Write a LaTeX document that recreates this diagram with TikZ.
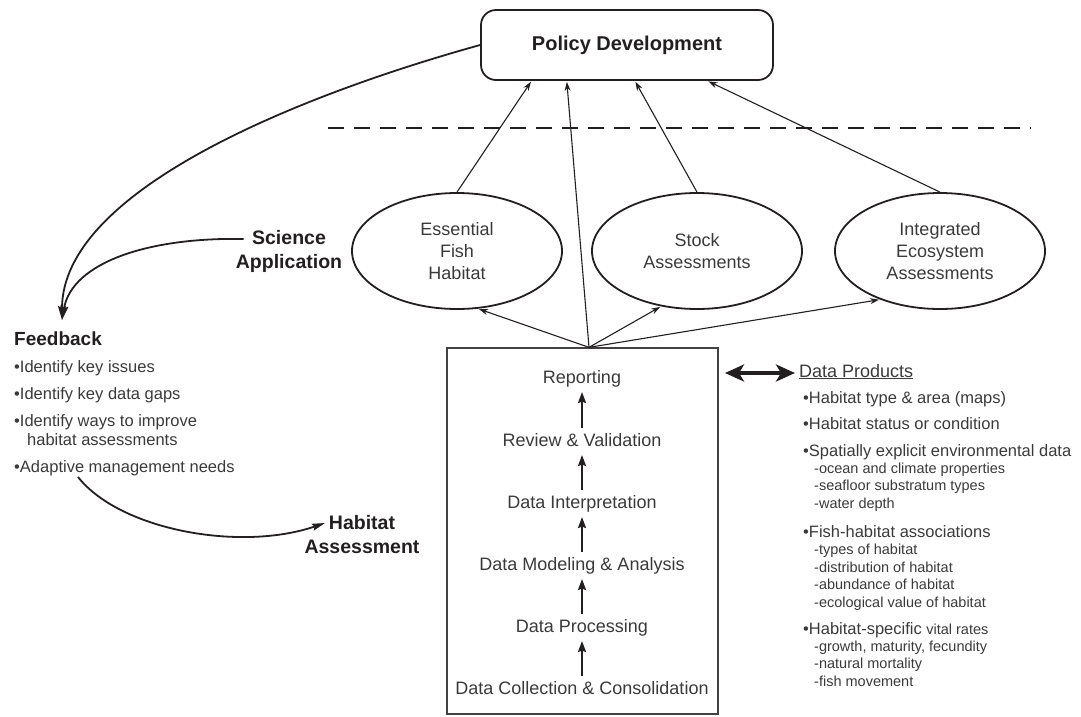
\documentclass[tikz,border=0pt]{standalone}
\usepackage{fontspec}
\setmainfont{Liberation Sans}
\usetikzlibrary{arrows.meta,shapes.geometric,calc}
\definecolor{ink}{HTML}{231F20}
\definecolor{txt}{HTML}{3A3A3A}
\begin{document}
\begin{tikzpicture}[x=1pt,y=-1pt,
  lbl/.style={font=\fontsize{16.5}{20}\selectfont, text=txt, inner sep=0, anchor=base west},
  sublbl/.style={font=\fontsize{14.5}{17}\selectfont, text=txt, inner sep=0, anchor=base west},
  boldttl/.style={font=\fontsize{19.5}{24}\selectfont\bfseries, text=ink, inner sep=0, align=center},
  ell/.style={ellipse, draw=ink, line width=1.8pt, minimum width=210pt, minimum height=116pt,
              inner sep=0, align=center, text=txt, font=\fontsize{18}{22}\selectfont},
  steptxt/.style={font=\fontsize{18}{22}\selectfont, text=txt, inner sep=0, anchor=base},
  thinarrow/.style={draw=ink, line width=1.1pt, -{Stealth[length=9pt,width=6pt]}, shorten >=1pt},
  curvearrow/.style={draw=ink, line width=1.8pt, -{Stealth[length=14pt,width=8pt,inset=2pt]}},
  steparrow/.style={draw=ink, line width=2pt, -{Stealth[length=11pt,width=8pt,inset=1.5pt]}},
  dblarrow/.style={draw=ink, line width=3.5pt, {Stealth[length=19pt,width=17pt,inset=5pt]}-{Stealth[length=19pt,width=17pt,inset=5pt]}},
  dashline/.style={draw=ink, line width=2.2pt, dash pattern=on 16pt off 10pt}
]
\useasboundingbox (0,0) rectangle (1081,716);

% Policy box
\node[draw=ink, line width=1.8pt, rounded corners=15pt, minimum width=292pt, minimum height=70pt,
      font=\fontsize{20}{24}\selectfont\bfseries, text=ink] (pol) at (627,45) {Policy Development};

% dashed separator
\draw[dashline] (328,128) -- (1031,128);

% ellipses
\node[ell] (efh) at (457,251) {Essential\\Fish\\Habitat};
\node[ell] (stock) at (697,251) {Stock\\Assessments};
\node[ell] (iea) at (940,251) {Integrated\\Ecosystem\\Assessments};

% process box
\node[draw=ink!85, line width=1.3pt, minimum width=271pt, minimum height=366pt, inner sep=0] (proc) at (582.5,531) {};
\coordinate (hub) at ($(proc.north)+(6.5,0)$);

\node[steptxt] (s1) at (582,383) {Reporting};
\node[steptxt] (s2) at (582,446) {Review \& Validation};
\node[steptxt] (s3) at (582,508) {Data Interpretation};
\node[steptxt] (s4) at (582,570) {Data Modeling \& Analysis};
\node[steptxt] (s5) at (582,632) {Data Processing};
\node[steptxt] (s6) at (582,694) {Data Collection \& Consolidation};

\draw[steparrow] ([yshift=18pt]s2.base) -- ([yshift=-9pt]s1.base);
\draw[steparrow] ([yshift=18pt]s3.base) -- ([yshift=-9pt]s2.base);
\draw[steparrow] ([yshift=18pt]s4.base) -- ([yshift=-9pt]s3.base);
\draw[steparrow] ([yshift=18pt]s5.base) -- ([yshift=-9pt]s4.base);
\draw[steparrow] ([yshift=18pt]s6.base) -- ([yshift=-9pt]s5.base);

% arrows to policy
\draw[thinarrow] (efh.north) -- ($(pol.south west)!0.175!(pol.south east)$);
\draw[thinarrow] (hub) -- ($(pol.south west)!0.295!(pol.south east)$);
\draw[thinarrow] (stock.north) -- ($(pol.south west)!0.527!(pol.south east)$);
\draw[thinarrow] (iea.north) -- ($(pol.south west)!0.774!(pol.south east)$);

% arrows from process box to ellipses
\draw[thinarrow] (hub) -- (efh.-70);
\draw[thinarrow] (hub) -- (stock.-123);
\draw[thinarrow] (hub) -- (iea.-141);

% Science application
\node[boldttl] (sci) at (289,251) {Science\\Application};
\coordinate (scistart) at ($(sci.west)+(8,-12)$);
\coordinate (fbtip) at (62,320);

\draw[curvearrow] (pol.west) .. controls (300,95) and (62,190) .. (fbtip);
\draw[curvearrow] (scistart) .. controls (150,237) and (72,262) .. (fbtip);

% Feedback
\node[font=\fontsize{19}{24}\selectfont\bfseries, text=ink, inner sep=0, anchor=base west] (fb) at (14,345) {Feedback};
\node[lbl] (f1) at (14,372) {•Identify key issues};
\node[lbl] (f2) at (14,399) {•Identify key data gaps};
\node[lbl] (f3) at (14,426) {•Identify ways to improve};
\node[lbl] (f3b) at (27,445) {habitat assessments};
\node[lbl] (f4) at (14,472) {•Adaptive management needs};

% Habitat Assessment
\node[boldttl] (hab) at (362,535) {Habitat\\Assessment};
\coordinate (habstart) at (78,477);
\coordinate (habtip) at (325,523);
\draw[draw=ink, line width=1.8pt, -{Stealth[length=13pt,width=7pt,inset=2pt]}] (habstart) .. controls (120,530) and (240,552) .. (habtip);

% Data products
\node[font=\fontsize{18}{22}\selectfont, text=txt, inner sep=0, anchor=base west] (dp) at (799,377) {\underline{Data Products}};
\coordinate (dpl) at (725,373);
\coordinate (dpr) at (795,373);
\draw[dblarrow] (dpl) -- (dpr);

\node[lbl] (d1) at (803,403) {•Habitat type \& area (maps)};
\node[lbl] (d2) at (803,429) {•Habitat status or condition};
\node[lbl] (d3) at (803,456) {•Spatially explicit environmental data};
\node[sublbl] (d3a) at (814,473) {-ocean and climate properties};
\node[sublbl] (d3b) at (814,490) {-seafloor substratum types};
\node[sublbl] (d3c) at (814,508) {-water depth};
\node[lbl] (d4) at (803,537) {•Fish-habitat associations};
\node[sublbl] (d4a) at (814,554) {-types of habitat};
\node[sublbl] (d4b) at (814,572) {-distribution of habitat};
\node[sublbl] (d4c) at (814,589) {-abundance of habitat};
\node[sublbl] (d4d) at (814,607) {-ecological value of habitat};
\node[lbl] (d5) at (803,634) {•Habitat-specific {\fontsize{14.5}{17}\selectfont vital rates}};
\node[sublbl] (d5a) at (814,651) {-growth, maturity, fecundity};
\node[sublbl] (d5b) at (814,668) {-natural mortality};
\node[sublbl] (d5c) at (814,686) {-fish movement};
\end{tikzpicture}
\end{document}
